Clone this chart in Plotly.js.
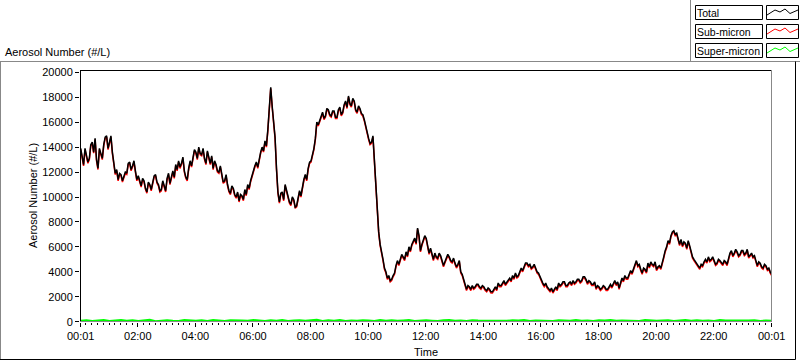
<!DOCTYPE html>
<html><head><meta charset="utf-8">
<script src="https://cdn.plot.ly/plotly-3.0.1.min.js"></script>
<style>html,body{margin:0;padding:0;background:#fff;overflow:hidden}#chart{width:800px;height:361px}</style>
</head><body><div id="chart"></div>
<script>
// ---- data (minutes since midnight; first sample 00:01) ----
const startMinute = 1;
const totalStep = 3;      // minutes between Total / Sub-micron samples
const superStep = 12;     // minutes between Super-micron samples

const totalValues = [
13900,13200,12600,13900,13400,12800,13100,14200,14400,13600,14700,13000,12300,13900,13500,13100,14200,14800,14900,13900,
14400,14900,13600,12700,11900,12200,11400,11900,11800,11300,11600,12000,11900,12700,12800,12200,12500,12900,12100,11400,
11700,11200,10900,11500,11300,10700,10400,11200,11000,10600,11300,11700,11800,11200,11000,10500,10600,11300,10900,10500,
11500,11900,11100,11700,12100,11600,12600,12200,12900,12400,12700,13200,12100,11600,11400,12300,12900,12500,13300,13800,
13600,13100,14000,13500,13400,13900,13100,12700,13700,13200,12700,13300,12300,12900,12600,12100,12000,12500,11800,11200,
11300,11800,11000,10500,10300,10900,10700,10200,10000,10400,9700,10200,10100,9800,10600,10200,11000,10700,11300,11800,
12100,12500,12800,12400,13100,13600,14000,13700,14500,14100,15400,17500,18800,17300,16000,14800,12300,10400,9600,10300,
10400,9800,11000,10500,10100,9600,9400,10000,9800,9200,9300,9900,10500,10100,10900,11400,11800,11400,12300,12800,
12900,13300,13900,14700,16000,15800,16200,16600,16800,16300,16500,17100,17000,16600,16500,16900,16900,16400,16400,17000,
17200,16600,16800,17400,17700,17200,18100,17500,17300,17900,17700,17000,16800,17300,17100,16700,16600,16200,15600,15200,
14700,14300,14400,14900,12800,10500,8700,7200,6200,5700,5000,4300,4000,3500,3700,3300,3400,3700,3900,4500,
4900,4600,5100,5400,5200,5000,5600,5300,6000,5700,6200,6500,6700,6300,7500,6900,5700,6200,6500,6900,
6700,6100,5500,5900,5300,5000,5500,5200,5100,5500,5300,4800,4500,4800,5100,5400,5200,4900,4800,5100,
4700,4400,4600,4900,4000,3800,3400,3000,2600,2900,2800,2600,2900,2700,2800,3000,3000,2800,2700,2900,
2800,2600,2500,2700,2600,2400,2400,2600,2800,2600,3100,2900,2900,3100,3300,3000,3200,3400,3500,3300,
3700,3500,3900,3600,3700,4000,4300,4100,4400,4700,4700,4500,4600,4300,4400,4600,4300,4000,3900,3600,
3400,3100,2900,3100,2800,2600,2500,2700,2400,2600,2800,2600,3100,2900,3000,3200,3200,2900,2900,3100,
3200,3000,3300,3100,3200,3400,3400,3200,3300,3600,3600,3400,3100,3300,3200,3000,3000,3200,2700,2900,
2800,2600,2700,2900,2800,2600,2600,2800,3000,2800,3100,3300,3000,3200,2700,3100,3500,3300,3700,3500,
3500,3800,4100,3900,4300,4600,4900,4500,4600,4200,3900,4300,4200,4000,4700,4400,4800,4600,4500,4800,
4200,4400,4500,4300,4900,5200,5700,6000,6500,6300,6900,7200,7300,7000,7100,6700,6200,6600,6100,6400,
6300,5900,6500,6100,5500,5200,5000,4800,4600,4400,4300,4600,4500,4800,5000,4800,5200,4900,5000,5200,
4900,4600,4700,5000,4900,4700,4600,4900,4800,4600,5200,5500,5700,5300,5500,5800,5600,5300,5400,5700,
5700,5400,5500,5800,5200,5400,5500,5200,5300,4900,4500,4800,4700,4400,4300,4600,4500,4200,4300,4000,
3800
];

const subValues = [
13800,13100,12500,13780,13300,12700,13000,14090,14300,13520,14600,12890,12200,13800,13400,13000,14100,14700,14800,13800,
14300,14790,13500,12600,11800,12100,11300,11800,11700,11200,11500,11880,11800,12600,12700,12100,12400,12790,12000,11300,
11600,11100,10800,11380,11200,10600,10300,11100,10900,10500,11200,11590,11700,11100,10900,10400,10500,11200,10800,10400,
11400,11790,11000,11600,12000,11500,12500,12100,12800,12290,12600,13100,12000,11500,11300,12200,12800,12400,13200,13700,
13500,13000,13900,13380,13300,13800,13000,12600,13600,13100,12600,13190,12200,12800,12500,12000,11900,12400,11700,11100,
11200,11700,10900,10400,10200,10790,10600,10100,9900,10300,9600,10100,10000,9700,10500,10100,10900,10600,11200,11690,
12000,12400,12700,12300,13000,13500,13900,13600,14400,14000,15300,17400,18700,17200,15900,14700,12200,10300,9500,10200,
10300,9700,10900,10400,10000,9500,9300,9900,9700,9100,9200,9800,10400,10000,10800,11300,11700,11300,12200,12700,
12800,13200,13800,14600,15900,15700,16100,16500,16700,16200,16400,17000,16900,16500,16400,16800,16800,16300,16300,16900,
17100,16500,16700,17300,17600,17100,18000,17400,17200,17800,17600,16900,16700,17200,17000,16600,16500,16100,15500,15100,
14600,14200,14300,14800,12700,10400,8600,7100,6100,5600,4900,4200,3900,3400,3600,3200,3300,3600,3800,4400,
4800,4500,5000,5300,5100,4900,5500,5200,5900,5600,6100,6400,6600,6200,7400,6800,5600,6100,6400,6800,
6600,6000,5400,5800,5200,4900,5400,5100,5000,5400,5200,4700,4400,4700,5000,5300,5100,4800,4700,5000,
4600,4300,4500,4800,3900,3700,3300,2900,2500,2800,2700,2500,2800,2600,2700,2900,2900,2700,2600,2800,
2700,2500,2400,2600,2500,2300,2300,2500,2700,2500,3000,2800,2800,3000,3200,2900,3100,3300,3400,3200,
3600,3400,3800,3500,3600,3900,4200,4000,4300,4600,4600,4400,4500,4200,4300,4500,4200,3900,3800,3500,
3300,3000,2800,3000,2700,2500,2400,2600,2300,2500,2700,2500,3000,2800,2900,3100,3100,2800,2800,3000,
3100,2900,3200,3000,3100,3300,3300,3100,3200,3500,3500,3300,3000,3200,3100,2900,2900,3100,2600,2800,
2700,2500,2600,2800,2700,2500,2500,2700,2900,2700,3000,3200,2900,3100,2600,3000,3400,3200,3600,3400,
3400,3700,4000,3800,4200,4500,4800,4400,4500,4100,3800,4200,4100,3900,4600,4300,4700,4500,4400,4700,
4100,4300,4400,4200,4800,5100,5600,5900,6400,6200,6800,7100,7200,6900,7000,6600,6100,6500,6000,6300,
6200,5800,6400,6000,5400,5100,4900,4700,4500,4300,4200,4500,4400,4700,4900,4700,5100,4800,4900,5100,
4800,4500,4600,4900,4800,4600,4500,4800,4700,4500,5100,5400,5600,5200,5400,5700,5500,5200,5300,5600,
5600,5300,5400,5700,5100,5300,5400,5100,5200,4800,4400,4700,4600,4300,4200,4500,4400,4100,4200,3900,
3700
];

const superValues = [
80,120,60,100,140,50,90,130,70,110,
60,100,150,40,90,120,80,60,130,100,
70,110,50,140,90,60,120,80,100,70,
130,90,50,110,80,140,60,100,120,70,
90,150,60,110,80,130,50,100,70,120,
90,60,140,80,110,70,100,130,60,90,
120,80,50,110,140,70,100,60,120,90,
80,130,60,100,70,110,90,140,50,100,
80,120,60,110,90,70,130,80,100,60,
120,90,140,70,100,80,110,60,130,90,
70,100,120,60,90,140,80,110,70,100,
60,130,90,80,120,70,100,110,60,90,
80
];

const seriesNames = ['Total','Sub-micron','Super-micron'];
const seriesColors = ['#000000','#ff0000','#00ff00'];

const tickMinutes = [1,120,240,360,480,600,720,840,960,1080,1200,1320,1441];
const tickLabels = ['00:01','02:00','04:00','06:00','08:00','10:00','12:00','14:00','16:00','18:00','20:00','22:00','00:01'];
const yTickValues = [0,2000,4000,6000,8000,10000,12000,14000,16000,18000,20000];

const chartLabel = 'Aerosol Number (#/L)';
const xTitle = 'Time';
const yTitle = 'Aerosol Number (#/L)';

// ---- build ----
const tTotal = totalValues.map((_, i) => startMinute + i * totalStep);
const tSuper = superValues.map((_, i) => startMinute + i * superStep);

const W = 800, Hh = 361;
const M = {l: 80, r: 28, t: 70, b: 39};
const PW = W - M.l - M.r, PH = Hh - M.t - M.b;
const px = x => (x - M.l) / PW;
const py = y => (M.t + PH - y) / PH;
const FONT = 'Liberation Sans, Arial, sans-serif';

const traces = [
  {x: tSuper, y: superValues, name: seriesNames[2], type: 'scatter', mode: 'lines',
   line: {color: seriesColors[2], width: 2}},
  {x: tTotal, y: subValues, name: seriesNames[1], type: 'scatter', mode: 'lines',
   line: {color: seriesColors[1], width: 1.5}},
  {x: tTotal, y: totalValues, name: seriesNames[0], type: 'scatter', mode: 'lines',
   line: {color: seriesColors[0], width: 1.5}}
];

const shapes = [];
const annotations = [];
function line(x0, y0, x1, y1, color, width) {
  shapes.push({type: 'line', xref: 'paper', yref: 'paper', x0: px(x0), y0: py(y0), x1: px(x1), y1: py(y1),
    line: {color: color, width: width || 1}});
}
function rect(x0, y0, x1, y1, color) {
  shapes.push({type: 'rect', xref: 'paper', yref: 'paper', x0: px(x0), y0: py(y0), x1: px(x1), y1: py(y1),
    line: {color: color, width: 1}, fillcolor: 'rgba(0,0,0,0)'});
}
// panel frames
line(0, 61.5, 800, 61.5, '#888888');
line(690.5, 0, 690.5, 61.5, '#888888');
line(0.5, 61.5, 0.5, 359.5, '#888888');
line(0, 359.5, 795.5, 359.5, '#000000');
line(795.5, 61.5, 795.5, 359.5, '#000000');
// plot border
line(80.5, 70, 80.5, 322, '#000000');
line(80, 70.5, 772, 70.5, '#000000');
line(771.5, 70, 771.5, 322, '#888888');
line(80, 321.5, 772, 321.5, '#888888');

// legend boxes
const legendRows = [5.5, 24.5, 43.5];
const zig = [[0,9.5],[8,4.5],[13,6.5],[18,3.5],[23,8],[31,4.5]];
seriesNames.forEach((name, k) => {
  const top = legendRows[k];
  rect(695.5, top, 762.5, top + 14, '#000000');
  rect(766.5, top, 798.5, top + 14, '#000000');
  let path = '';
  zig.forEach((p, j) => {
    path += (j ? ' L ' : 'M ') + px(767 + p[0]) + ',' + py(top + p[1]);
  });
  shapes.push({type: 'path', xref: 'paper', yref: 'paper', path: path,
    line: {color: seriesColors[k], width: 1}});
  annotations.push({xref: 'paper', yref: 'paper', x: px(695), y: py(top + 7.5),
    xanchor: 'left', yanchor: 'middle', text: name, showarrow: false,
    font: {family: FONT, size: 10.5, color: '#000'}});
});

annotations.push({xref: 'paper', yref: 'paper', x: px(3), y: py(52), xanchor: 'left', yanchor: 'middle',
  text: chartLabel, showarrow: false, font: {family: FONT, size: 11, color: '#000'}});
annotations.push({xref: 'paper', yref: 'paper', x: px(33), y: py(196), xanchor: 'center', yanchor: 'middle',
  text: yTitle, textangle: -90, showarrow: false, font: {family: FONT, size: 11, color: '#000'}});
annotations.push({xref: 'paper', yref: 'paper', x: px(426), y: py(352), xanchor: 'center', yanchor: 'middle',
  text: xTitle, showarrow: false, font: {family: FONT, size: 11, color: '#000'}});

const layout = {
  width: W, height: Hh,
  margin: M,
  paper_bgcolor: '#ffffff', plot_bgcolor: '#ffffff',
  showlegend: false,
  font: {family: FONT, size: 11, color: '#000'},
  xaxis: {
    range: [-0.46, 1441.6], showgrid: false, zeroline: false, showline: false,
    tickmode: 'array', tickvals: tickMinutes, ticktext: tickLabels,
    ticks: 'outside', ticklen: 4, tickcolor: '#000', tickwidth: 1,
    tickfont: {family: FONT, size: 11, color: '#000'},
    minor: {tickmode: 'linear', tick0: 0, dtick: 12, ticks: 'outside', ticklen: 2, tickcolor: '#000', tickwidth: 1, showgrid: false}
  },
  yaxis: {
    range: [-24, 20184], showgrid: false, zeroline: false, showline: false,
    tickmode: 'array', tickvals: yTickValues, ticktext: yTickValues.map(String),
    ticks: 'outside', ticklen: 4, tickcolor: '#000', tickwidth: 1,
    tickfont: {family: FONT, size: 11, color: '#000'}
  },
  shapes: shapes,
  annotations: annotations
};

Plotly.newPlot('chart', traces, layout, {displayModeBar: false, staticPlot: true});
</script></body></html>
